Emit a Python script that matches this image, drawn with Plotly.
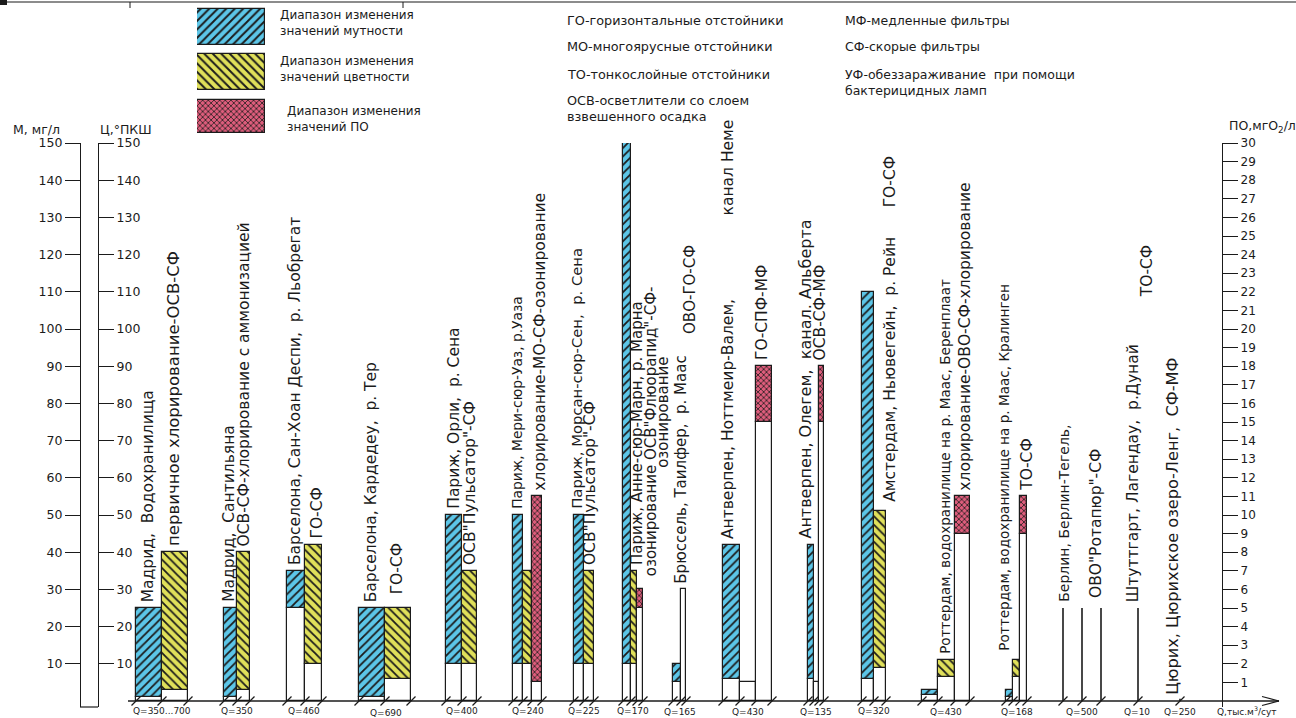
import plotly.graph_objects as go

W, H = 1296, 718

# ---------------- data ----------------
q_labels = ["Q=350...700", "Q=350", "Q=460", "Q=690", "Q=400", "Q=240", "Q=225",
            "Q=170", "Q=165", "Q=430", "Q=135", "Q=320", "Q=430", "Q=168",
            "Q=500", "Q=10", "Q=250"]

# turbidity M, mg/l (min..max)
turb_min = [1, 1, 25, 1, 10, 10, 10, 10, 5, 6, 6, 6, 1.5, 1]
turb_max = [25, 25, 35, 25, 50, 50, 50, 150, 10, 42, 42, 110, 3, 3]
# colour C, deg PKSh (min..max)
col_min = [3, 3, 10, 6, 10, 10, 10, 10, 30, 5, 5, 9, 6.5, 6.5]
col_max = [40, 40, 42, 25, 35, 35, 35, 35, 30, 5, 5, 51, 11, 11]
# permanganate oxidability PO, mgO2/l (min..max); None = no data
po_min = [None, None, None, None, None, 1, None, 5, None, 15, 15, None, 9, 9]
po_max = [None, None, None, None, None, 11, None, 6, None, 18, 18, None, 11, 11]
# single-value plants drawn as thin lines (M units)
line_vals = [25, 25, 25, 25, 0.6]

left_ticks = list(range(10, 151, 10))
right_ticks = list(range(1, 31))

S2 = "\u00a0\u00a0"
# vertical site / scheme captions
captions = [
    "Мадрид," + S2 + "Водохранилища", "первичное хлорирование-ОСВ-СФ",
    "Мадрид," + S2 + "Сантильяна", "ОСВ-СФ-хлорирование с аммонизацией",
    "Барселона, Сан-Хоан Деспи," + S2 + "р. Льобрегат", "ГО-СФ",
    "Барселона, Кардедеу," + S2 + "р. Тер", "ГО-СФ",
    "Париж, Орли," + S2 + "р. Сена", "ОСВ\"Пульсатор\"-СФ",
    "Париж, Мери-сюр-Уаз, р.Уаза", "хлорирование-МО-СФ-озонирование",
    "Париж, Морсан-сюр-Сен," + S2 + "р. Сена", "ОСВ\"Пульсатор\"-СФ",
    "Париж, Анне-сюр-Марн, р. Марна", "озонирование ОСВ\"Флюорапид\"-СФ-", "озонирование",
    "Брюссель, Таилфер," + S2 + "р. Маас", "ОВО-ГО-СФ",
    "Антверпен, Ноттмеир-Валем,", "канал Неме", "ГО-СПФ-МФ",
    "Антверпен, Олегем," + S2 + "канал. Альберта", "ОСВ-СФ-МФ",
    "Амстердам, Ньювегейн," + S2 + "р. Рейн" + S2 * 3 + "ГО-СФ",
    "Роттердам, водохранилище на р. Маас, Беренплаат", "хлорирование-ОВО-СФ-хлорирование",
    "Роттердам, водохранилище на р. Маас, Кралинген", "ТО-СФ",
    "Берлин, Берлин-Тегель,", "ОВО\"Ротапюр\"-СФ",
    "Штуттгарт, Лагендау," + S2 + "р.Дунай", "ТО-СФ",
    "Цюрих, Цюрихское озеро-Ленг," + S2 + "СФ-МФ",
]

legend_texts = ["Диапазон изменения<br>значений мутности",
                "Диапазон изменения<br>значений цветности",
                "Диапазон изменения<br>значений ПО"]
abbrev_left = ["ГО-горизонтальные отстойники", "МО-многоярусные отстойники",
               "ТО-тонкослойные отстойники", "ОСВ-осветлители со слоем", "взвешенного осадка"]
abbrev_right = ["МФ-медленные фильтры", "СФ-скорые фильтры",
                "УФ-обеззараживание" + S2 + "при помощи", "бактерицидных ламп"]

# ---------------- layout helpers (positions / styles) ----------------
# slot edges (x, px) of each station group along the Q axis
edges = [
    [136, 162, 188], [224, 237, 250], [287, 305, 322], [359, 385, 411],
    [446, 462, 477], [513, 523, 532, 542], [574, 584, 594], [623, 631, 637, 643],
    [673, 681, 686], [723, 740, 756, 772], [808, 814, 819, 824], [862, 874, 886],
    [922, 938, 955, 970], [1006, 1013, 1020, 1027],
]
line_x = [1063, 1082, 1101, 1138, 1180]
q_label_x = [162, 237, 304, 386, 462, 528, 584, 633, 680, 748, 816, 874, 946, 1017,
             1082, 1137, 1180]
q_label_y = [711, 711, 711, 713, 711, 711, 711, 711, 712, 712, 712, 711, 712, 712,
             712, 712, 712]
# (x px, bottom in M units, font size)
cap_pos = [(148, 26, 15.5), (174, 41, 16.5), (229, 26, 15.5), (244, 41, 15.5),
           (295, 36, 15.5), (317, 43, 15.5), (371, 26, 15.5), (397, 28, 15.5),
           (454, 51, 15.5), (470, 36, 15.5), (517, 51, 13.8), (540, 56, 15.5),
           (577, 51, 14.8), (590, 36, 15.5), (637, 36, 15), (651, 33, 15),
           (663, 62, 15), (681, 31, 15), (690, 98, 15),
           (728, 43, 15.5), (728, 130, 15.5), (762, 91, 15.5),
           (806, 43, 16), (820, 91, 15.5), (890, 53, 15.5),
           (945, 12, 13.6), (965, 56, 15.5), (1004, 13, 13.6), (1027, 56, 15.5),
           (1064, 26, 14), (1096, 27, 15.5), (1133, 26, 15.5), (1147, 108, 15.5),
           (1173, 1, 16.2)]

BLUE, YELLOW, RED = "#5cc6e8", "#e0e05a", "#de5d7c"
INK = "#1b1b1b"
FONT = "DejaVu Sans, Liberation Sans, sans-serif"

Y0_PX, Y150_PX, YBOT_PX = 701.0, 143.0, 707.0
PPU = (Y0_PX - Y150_PX) / 150.0
M_LOW = -(YBOT_PX - Y0_PX) / PPU


def px_x(x):
    return x / W


def px_y(y):
    return 1 - y / H


fig = go.Figure()


def pattern(color, shape, size=6, sol=0.3):
    return dict(shape=shape, fgcolor=INK, bgcolor=color, size=size,
                solidity=sol, fillmode="replace")


def add_bars(xs, ws, bases, tops, color, shape, yaxis, name, size=6, sol=0.3):
    if not xs:
        return
    fig.add_trace(go.Bar(
        x=xs, width=ws, base=bases, y=[t - b for t, b in zip(tops, bases)],
        yaxis=yaxis, name=name, showlegend=False,
        marker=dict(color=color, line=dict(color=INK, width=1.2),
                    pattern=pattern(color, shape, size, sol) if shape else None),
        hoverinfo="skip"))


wx, ww, wb, wt = [], [], [], []          # white boxes in M units
px_, pw, pb, pt = [], [], [], []        # white boxes in PO units
bx, bw, bb, bt = [], [], [], []
yx, yw, yb, yt = [], [], [], []
rx, rw, rb, rt = [], [], [], []
for i, e in enumerate(edges):
    # turbidity slot
    c, w = (e[0] + e[1]) / 2, e[1] - e[0]
    if turb_min[i] > 0:
        wx.append(c); ww.append(w); wb.append(0); wt.append(turb_min[i])
    bx.append(c); bw.append(w); bb.append(turb_min[i]); bt.append(turb_max[i])
    # colour slot
    c, w = (e[1] + e[2]) / 2, e[2] - e[1]
    if col_min[i] > 0:
        wx.append(c); ww.append(w); wb.append(0); wt.append(col_min[i])
    if col_max[i] > col_min[i]:
        yx.append(c); yw.append(w); yb.append(col_min[i]); yt.append(col_max[i])
    # PO slot
    if po_max[i] is not None:
        c, w = (e[2] + e[3]) / 2, e[3] - e[2]
        px_.append(c); pw.append(w); pb.append(0); pt.append(po_min[i])
        rx.append(c); rw.append(w); rb.append(po_min[i]); rt.append(po_max[i])

add_bars(wx, ww, wb, wt, "white", None, "y", "white")
add_bars(px_, pw, pb, pt, "white", None, "y3", "white PO")
add_bars(bx, bw, bb, bt, BLUE, "/", "y", "мутность")
add_bars(yx, yw, yb, yt, YELLOW, "\\", "y", "цветность")
add_bars(rx, rw, rb, rt, RED, "x", "y3", "ПО", size=4, sol=0.35)

# thin single-value lines
lx, ly = [], []
for x, v in zip(line_x, line_vals):
    lx += [x, x, None]
    ly += [0, v, None]
fig.add_trace(go.Scatter(x=lx, y=ly, mode="lines", line=dict(color=INK, width=1.6),
                         showlegend=False, hoverinfo="skip"))

# slash ticks on Q axis
tick_x = [x for e in edges for x in e] + line_x
fig.add_trace(go.Scatter(x=tick_x, y=[0] * len(tick_x), mode="markers",
                         marker=dict(symbol="line-ne", size=9,
                                     line=dict(color=INK, width=1.2)),
                         showlegend=False, hoverinfo="skip"))

# legend swatches (own small subplot), one trace each
for k, (col, shp, sz, wd) in enumerate([(BLUE, "/", 6, 0.8), (YELLOW, "\\", 6, 0.8),
                                        (RED, "x", 4, 0.72)]):
    fig.add_trace(go.Bar(
        x=[1], y=[k], base=[0], orientation="h", width=[wd],
        xaxis="x2", yaxis="y4", showlegend=False, hoverinfo="skip",
        marker=dict(color=col, line=dict(color=INK, width=1.2),
                    pattern=pattern(col, shp, sz, 0.32 if k < 2 else 0.35))))

ann = []
for (x, yb_, fs), t in zip(cap_pos, captions):
    ann.append(dict(x=x, y=yb_, xref="x", yref="y", text=t, textangle=-90,
                    showarrow=False, xanchor="center", yanchor="bottom",
                    font=dict(size=fs, color=INK, family=FONT)))
for x, y, t in zip(q_label_x, q_label_y, q_labels):
    ann.append(dict(x=px_x(x), y=px_y(y), xref="paper", yref="paper", text=t,
                    showarrow=False, xanchor="center", yanchor="middle",
                    font=dict(size=9, color=INK, family=FONT)))
ann.append(dict(x=px_x(1246), y=px_y(711), xref="paper", yref="paper",
                text="Q,тыс.м<sup>3</sup>/сут", showarrow=False, xanchor="center",
                yanchor="middle", font=dict(size=9, color=INK, family=FONT)))
for t, y, x in zip(legend_texts, [23, 69, 119], [278, 278, 285]):
    ann.append(dict(x=px_x(x), y=px_y(y), xref="paper", yref="paper", text=t,
                    showarrow=False, xanchor="left", yanchor="middle", align="left",
                    font=dict(size=12, color=INK, family=FONT)))
for t, y in zip(abbrev_left, [20, 46, 74, 101, 117]):
    ann.append(dict(x=px_x(565), y=px_y(y), xref="paper", yref="paper", text=t,
                    showarrow=False, xanchor="left", yanchor="middle",
                    font=dict(size=12.8, color=INK, family=FONT)))
for t, y in zip(abbrev_right, [20, 46, 74, 90]):
    ann.append(dict(x=px_x(843), y=px_y(y), xref="paper", yref="paper", text=t,
                    showarrow=False, xanchor="left", yanchor="middle",
                    font=dict(size=12.5, color=INK, family=FONT)))
for t, x, y in [("М, мг/л", 36, 130), ("Ц,°ПКШ", 126, 130),
                ("ПО,мгО<sub>2</sub>/л", 1262, 126)]:
    ann.append(dict(x=px_x(x), y=px_y(y), xref="paper", yref="paper", text=t,
                    showarrow=False, xanchor="center", yanchor="middle",
                    font=dict(size=12.5, color=INK, family=FONT)))

shapes = [
    # Q baseline and arrow
    dict(type="line", xref="x", yref="y", x0=128, x1=1279, y0=0, y1=0,
         line=dict(color=INK, width=1.3)),
    dict(type="line", xref="x", yref="y", x0=1262, x1=1279, y0=1.2, y1=0,
         line=dict(color=INK, width=1.1)),
    dict(type="line", xref="x", yref="y", x0=1262, x1=1279, y0=-1.2, y1=0,
         line=dict(color=INK, width=1.1)),
    # bottom of the double left scale
    dict(type="line", xref="x", yref="paper", x0=80, x1=98, y0=px_y(YBOT_PX),
         y1=px_y(YBOT_PX), line=dict(color=INK, width=1.2)),
    # drawing frame at the top
    dict(type="line", xref="paper", yref="paper", x0=0, x1=1, y0=px_y(2), y1=px_y(2),
         line=dict(color=INK, width=1.2)),
    dict(type="line", xref="paper", yref="paper", x0=px_x(130), x1=px_x(130),
         y0=px_y(2), y1=px_y(8), line=dict(color=INK, width=1)),
    dict(type="line", xref="paper", yref="paper", x0=px_x(403), x1=px_x(403),
         y0=px_y(2), y1=px_y(8), line=dict(color=INK, width=1)),
    dict(type="rect", xref="paper", yref="paper", x0=0, x1=px_x(7), y0=px_y(0),
         y1=px_y(5), fillcolor=INK, line=dict(width=0)),
]

axis_common = dict(showgrid=False, zeroline=False, showline=True, linecolor=INK,
                   linewidth=1.2, ticks="outside", tickcolor=INK, tickwidth=1.1,
                   ticklen=15, automargin=False,
                   tickfont=dict(size=12.5, color=INK, family=FONT))

fig.update_layout(
    width=W, height=H, margin=dict(l=0, r=0, t=0, b=0),
    paper_bgcolor="white", plot_bgcolor="rgba(0,0,0,0)",
    barmode="overlay", bargap=0, showlegend=False,
    xaxis=dict(range=[0, W], domain=[0, 1], visible=False, fixedrange=True),
    yaxis=dict(range=[M_LOW, 150], domain=[px_y(YBOT_PX), px_y(Y150_PX)],
               anchor="free", position=px_x(80), side="left",
               tickvals=left_ticks, ticktext=[str(v) for v in left_ticks],
               **axis_common),
    yaxis2=dict(range=[M_LOW, 150], overlaying="y", anchor="free",
                position=px_x(98), side="right",
                tickvals=left_ticks, ticktext=[str(v) for v in left_ticks],
                **axis_common),
    yaxis3=dict(range=[M_LOW / 5, 30], overlaying="y", anchor="free",
                position=px_x(1222), side="right",
                tickvals=right_ticks, ticktext=[str(v) for v in right_ticks],
                **{**axis_common, "tickfont": dict(size=12, color=INK, family=FONT)}),
    xaxis2=dict(range=[0, 1], domain=[px_x(197), px_x(265)], anchor="y4",
                visible=False, fixedrange=True),
    yaxis4=dict(range=[2.5, -0.5], domain=[px_y(139), px_y(4)], anchor="x2",
                visible=False, fixedrange=True),
    annotations=ann, shapes=shapes,
)
# y2 needs a trace so it is drawn
fig.add_trace(go.Scatter(x=[None], y=[None], yaxis="y2", showlegend=False,
                         hoverinfo="skip"))

fig.write_html("out.html")
